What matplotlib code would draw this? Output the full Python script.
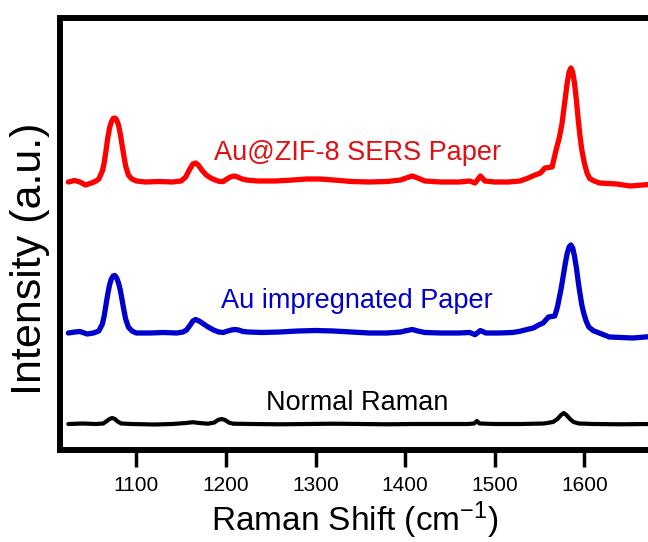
import numpy as np
import matplotlib.pyplot as plt

plt.rcParams['font.family'] = ['Liberation Sans', 'DejaVu Sans']
plt.rcParams['mathtext.fontset'] = 'custom'
plt.rcParams['mathtext.rm'] = 'Liberation Sans'
plt.rcParams['mathtext.it'] = 'Liberation Sans'

# --- spectra (baseline-relative intensity, a.u.) ---
red_wn = [1024, 1031, 1037, 1043, 1050, 1055, 1058, 1062, 1064, 1066, 1068, 1070, 1072,
          1074, 1076, 1078, 1080, 1082, 1084, 1086, 1088, 1091, 1095, 1100, 1110, 1125,
          1140, 1150, 1155, 1159, 1163, 1166, 1169, 1173, 1178, 1183, 1188, 1193, 1197,
          1201, 1205, 1209, 1213, 1218, 1223, 1235, 1255, 1275, 1290, 1305, 1320, 1340,
          1360, 1380, 1395, 1401, 1408, 1414, 1422, 1440, 1460, 1472, 1478, 1484, 1489,
          1500, 1515, 1528, 1536, 1545, 1551, 1556, 1564, 1569, 1572, 1575, 1577, 1579,
          1581, 1583, 1585, 1587, 1589, 1591, 1593, 1595, 1597, 1600, 1603, 1606, 1611,
          1617, 1636, 1651, 1672]
red_int = [0, 1.5, 0, -3, -1, 1, 3, 11, 19, 31, 44, 54, 60,
           63.5, 64, 62, 57, 48, 37, 26, 16, 7, 3, 1, 0, 0.5,
           0, 1, 5, 12, 18, 19, 17, 12, 7, 4, 2, 0.5, 0.5,
           3, 5, 6, 5, 3, 2, 1, 1, 2, 3, 3, 2, 0.5,
           0, 0.5, 2, 4, 6, 4, 1, 0, 0, 1, -1, 6, 1,
           0, 0, 1, 3.5, 7, 9, 14, 15, 34, 44, 58, 72, 86,
           100, 110, 114, 110, 99, 83, 64, 47, 33, 19, 9, 3.5, 1,
           -1, -2, -4, -2.5]

blue_wn = [1024, 1031, 1037, 1045, 1052, 1058, 1062, 1064, 1066, 1068, 1070, 1072, 1074,
           1076, 1078, 1080, 1082, 1084, 1086, 1088, 1091, 1095, 1100, 1115, 1130, 1145,
           1152, 1156, 1160, 1163, 1166, 1170, 1175, 1180, 1186, 1192, 1197, 1202, 1206,
           1210, 1214, 1219, 1225, 1240, 1260, 1280, 1300, 1320, 1340, 1360, 1380, 1395,
           1402, 1408, 1414, 1422, 1440, 1460, 1472, 1478, 1484, 1490, 1505, 1520, 1528,
           1536, 1543, 1549, 1554, 1560, 1567, 1570, 1574, 1577, 1579, 1581, 1583, 1585,
           1587, 1589, 1591, 1594, 1597, 1599, 1602, 1605, 1610, 1628, 1654, 1672]
blue_int = [0, 1, 1.5, -1, 0, 2, 9, 17, 28, 39, 48, 54, 57,
            57.5, 55, 50, 43, 33, 23, 14, 6, 2, 0, 0, 0.5, 0,
            1, 3, 8, 12, 13.5, 12, 9, 6, 3, 1, 0.5, 2, 3,
            3.5, 3, 1.5, 1, 0.5, 1, 2, 2.5, 2, 1, 0, 0, 1,
            2.5, 3.5, 2, 0.5, 0, 0, 0.5, -1.7, 2.5, 0, 0, 0.5, 1.7,
            3.5, 5, 8, 10, 16, 17, 26, 44, 60, 71, 80, 86, 88,
            85, 77, 66, 46, 29, 21, 12, 6, 2.3, -4, -5, -3.7]

black_wn = [1024, 1040, 1055, 1063, 1067, 1070, 1073, 1076, 1079, 1083, 1095, 1120, 1140,
            1155, 1163, 1170, 1180, 1187, 1191, 1195, 1199, 1203, 1208, 1230, 1260, 1290,
            1320, 1350, 1380, 1410, 1440, 1470, 1477, 1480, 1483, 1500, 1530, 1555, 1565,
            1570, 1574, 1577, 1580, 1584, 1588, 1594, 1610, 1640, 1672]
black_int = [0, 0.5, 0, 0.5, 3, 5, 6, 5, 2.5, 0.5, 0, -0.5, 0,
             1, 1.8, 1, 0.3, 1.5, 4, 5, 4, 1.5, 0.3, 0, -0.3, 0,
             0.3, 0, -0.3, 0, 0, 0, 0.5, 3, 0.5, 0, 0, 0.5, 2,
             5, 9, 11, 9, 5, 2, 0.5, 0, -0.3, 0]

# vertical stacking of the three spectra
offsets = {'black': 26, 'blue': 117, 'red': 268}

fig = plt.figure(figsize=(6.48, 5.42), dpi=100, facecolor='white')
W, H = 648.0, 542.0
ax = fig.add_axes([60 / W, 92 / H, 596 / W, 432 / H])

ax.plot(black_wn, np.array(black_int) + offsets['black'], color='black', lw=3.0,
        solid_joinstyle='round', solid_capstyle='round')
ax.plot(blue_wn, np.array(blue_int) + offsets['blue'], color='#0000CC', lw=3.8,
        solid_joinstyle='round', solid_capstyle='round')
ax.plot(red_wn, np.array(red_int) + offsets['red'], color='#FF0000', lw=3.8,
        solid_joinstyle='round', solid_capstyle='round')

ax.text(1347, 290, 'Au@ZIF-8 SERS Paper', color='#E01010', fontsize=19.5,
        ha='center', va='baseline')
ax.text(1346, 142, 'Au impregnated Paper', color='#0000CC', fontsize=19.5,
        ha='center', va='baseline')
ax.text(1347, 40, 'Normal Raman', color='black', fontsize=19.5,
        ha='center', va='baseline')

ax.set_xlim(1014.7, 1680)
ax.set_ylim(0, 432)
ax.set_xticks([1100, 1200, 1300, 1400, 1500, 1600])
ax.set_yticks([])
ax.tick_params(axis='x', direction='out', length=12, width=2.5, pad=7, labelsize=15)
for s in ax.spines.values():
    s.set_linewidth(4.3)

# axis titles placed by hand, as in the source figure
fig.text(355 / W, 1 - 520 / H, 'Raman Shift (cm$^{\\mathrm{-1}}$)', fontsize=24,
         ha='center', va='center')
fig.text(30 / W, 1 - 259 / H, 'Intensity (a.u.)', rotation=90, fontsize=31,
         ha='center', va='center')

fig.savefig('out.png', dpi=100)
